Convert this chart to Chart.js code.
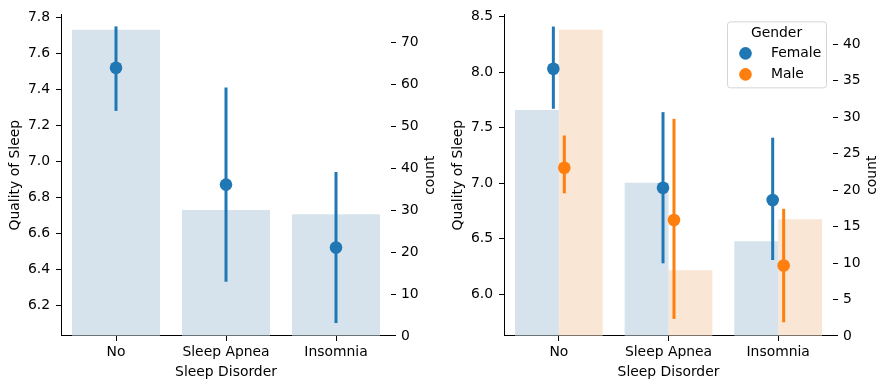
<!DOCTYPE html>
<html>
<head>
<meta charset="utf-8">
<script src="https://cdn.jsdelivr.net/npm/chart.js@4"></script>
<style>
  body { margin: 0; background: #fff; }
  #wrap { display: flex; width: 889px; height: 389px; }
  .panel { position: relative; height: 389px; }
  .panel canvas { position: absolute; left: 0; top: 0; display: block; }
</style>
</head>
<body>
<div id="wrap">
  <div class="panel" style="width:445px">
    <canvas id="allBars" width="445" height="389"></canvas>
    <canvas id="allPoints" width="445" height="389"></canvas>
  </div>
  <div class="panel" style="width:444px">
    <canvas id="genderBars" width="444" height="389"></canvas>
    <canvas id="genderPoints" width="444" height="389"></canvas>
  </div>
</div>
<script>
const categories = ["No", "Sleep Apnea", "Insomnia"];
const genders = ["Female", "Male"];

// left panel: everybody
const countAll = [73, 30, 29];
const qualityAll = [7.52, 6.87, 6.52];
const qualityAllLow = [7.28, 6.33, 6.10];
const qualityAllHigh = [7.75, 7.41, 6.94];

// right panel: split by gender
const countFemale = [31, 21, 13];
const countMale = [42, 9, 16];
const qualityFemale = [8.03, 6.96, 6.85];
const qualityFemaleLow = [7.67, 6.28, 6.31];
const qualityFemaleHigh = [8.41, 7.64, 7.41];
const qualityMale = [7.14, 6.67, 6.26];
const qualityMaleLow = [6.91, 5.78, 5.75];
const qualityMaleHigh = [7.43, 7.58, 6.77];

const qualityTicksAll = [6.2, 6.4, 6.6, 6.8, 7.0, 7.2, 7.4, 7.6, 7.8];
const countTicksAll = [0, 10, 20, 30, 40, 50, 60, 70];
const qualityTicksGender = [6.0, 6.5, 7.0, 7.5, 8.0, 8.5];
const countTicksGender = [0, 5, 10, 15, 20, 25, 30, 35, 40];

const blue = "#1f77b4";
const orange = "#ff7f0e";
const barBlue = "#d6e3ec";
const barOrange = "#f9e6d5";
const font = { family: "DejaVu Sans", size: 13.9 };
const fontStr = "13.9px 'DejaVu Sans'";

// vertical CI lines, drawn just before the dots
const errorBars = {
  id: "errorBars",
  beforeDatasetDraw(chart, args) {
    const ds = chart.data.datasets[args.index];
    if (!ds.ciLow) return;
    const y = chart.scales[ds.yAxisID];
    const ctx = chart.ctx;
    ctx.save();
    ctx.strokeStyle = ds.backgroundColor;
    ctx.lineWidth = 3;
    args.meta.data.forEach((pt, i) => {
      ctx.beginPath();
      ctx.moveTo(pt.x, y.getPixelForValue(ds.ciLow[i]));
      ctx.lineTo(pt.x, y.getPixelForValue(ds.ciHigh[i]));
      ctx.stroke();
    });
    ctx.restore();
  }
};

// matplotlib style right label (reads bottom to top)
const rightTitle = {
  id: "rightTitle",
  afterDraw(chart, args, opts) {
    if (!opts.text) return;
    const { ctx, chartArea } = chart;
    ctx.save();
    ctx.translate(chart.width - opts.offset, (chartArea.top + chartArea.bottom) / 2);
    ctx.rotate(-Math.PI / 2);
    ctx.font = fontStr;
    ctx.fillStyle = "#000";
    ctx.textAlign = "center";
    ctx.textBaseline = "middle";
    ctx.fillText(opts.text, 0, 0);
    ctx.restore();
  }
};

const genderLegend = {
  id: "genderLegend",
  afterDraw(chart, args, opts) {
    if (!opts.show) return;
    const { ctx, chartArea } = chart;
    const w = 99, h = 66;
    const x0 = chartArea.right - 7 - w, y0 = chartArea.top + 7;
    ctx.save();
    ctx.beginPath();
    ctx.roundRect(x0 + 0.5, y0 + 0.5, w, h, 3);
    ctx.fillStyle = "rgba(255,255,255,0.8)";
    ctx.fill();
    ctx.strokeStyle = "#d5d5d5";
    ctx.lineWidth = 1;
    ctx.stroke();
    ctx.font = fontStr;
    ctx.fillStyle = "#000";
    ctx.textAlign = "center";
    ctx.textBaseline = "middle";
    ctx.fillText("Gender", x0 + w / 2, y0 + 12);
    [blue, orange].forEach((c, i) => {
      const cy = y0 + 32 + i * 21;
      ctx.beginPath();
      ctx.arc(x0 + 18.5, cy, 6.3, 0, Math.PI * 2);
      ctx.fillStyle = c;
      ctx.fill();
      ctx.fillStyle = "#000";
      ctx.textAlign = "left";
      ctx.fillText(genders[i], x0 + 44, cy);
    });
    ctx.restore();
  }
};

function setTicks(values) {
  return scale => { scale.ticks = values.map(v => ({ value: v })); };
}

// ghost = same layout, nothing visible (overlay canvas for the points)
function makeOptions(o, ghost) {
  const ink = ghost ? "rgba(0,0,0,0)" : "#000";
  return {
    responsive: false,
    animation: false,
    layout: { padding: { top: 13, left: 0, right: 0, bottom: 0 } },
    plugins: {
      legend: { display: false },
      tooltip: { enabled: false },
      rightTitle: { text: ghost ? "count" : "", offset: o.countTitleOffset },
      genderLegend: { show: ghost && o.legend }
    },
    scales: {
      x: {
        type: "category",
        labels: categories,
        position: "bottom",
        offset: true,
        grid: { display: true, drawOnChartArea: false, offset: false, tickLength: 5, tickWidth: 1, color: ink },
        border: { display: true, color: ink, width: 1 },
        ticks: { color: ink, font: font, padding: 3 },
        title: { display: true, text: "Sleep Disorder", color: ink, font: font, padding: { top: 0, bottom: 8.5 } },
        afterFit: s => { s.height = 53; }
      },
      xp: { type: "linear", display: false, offset: false, min: -0.5, max: 2.5 },
      y: {
        type: "linear",
        position: "left",
        min: o.qMin,
        max: o.qMax,
        afterBuildTicks: setTicks(o.qTicks),
        grid: { display: true, drawOnChartArea: false, tickLength: 5, tickWidth: 1, color: ink },
        border: { display: true, color: ink, width: 1 },
        ticks: { color: ink, font: font, padding: 6, callback: v => v.toFixed(1) },
        title: { display: true, text: "Quality of Sleep", color: ink, font: font, padding: { top: o.qTitlePad, bottom: 0 } },
        afterFit: s => { s.width = o.leftWidth; }
      },
      count: {
        type: "linear",
        position: "right",
        min: 0,
        max: o.cMax,
        afterBuildTicks: setTicks(o.cTicks),
        grid: { display: true, drawOnChartArea: false, tickLength: 5, tickWidth: 1, color: ink },
        border: { display: false },
        ticks: { color: ink, font: font, padding: 5, callback: v => String(v) },
        afterFit: s => { s.width = o.rightWidth; }
      }
    }
  };
}

function pointSet(label, means, low, high, color, shift) {
  return {
    type: "scatter",
    label: label,
    data: means.map((m, i) => ({ x: i + shift, y: m })),
    ciLow: low,
    ciHigh: high,
    xAxisID: "xp",
    yAxisID: "y",
    backgroundColor: color,
    borderColor: color,
    pointRadius: 6.3,
    pointBorderWidth: 0
  };
}

function barSet(label, counts, color) {
  return {
    type: "bar",
    label: label,
    data: counts,
    xAxisID: "x",
    yAxisID: "count",
    backgroundColor: color,
    borderWidth: 0,
    categoryPercentage: 0.8,
    barPercentage: 1.0
  };
}

const allLayout = {
  qMin: 6.028, qMax: 7.817, qTicks: qualityTicksAll, qTitlePad: 7.5,
  cMax: 76.65, cTicks: countTicksAll,
  leftWidth: 61, rightWidth: 54, countTitleOffset: 15, legend: false
};
const genderLayout = {
  qMin: 5.626, qMax: 8.52, qTicks: qualityTicksGender, qTitlePad: 5.5,
  cMax: 44.1, cTicks: countTicksGender,
  leftWidth: 59, rightWidth: 56, countTitleOffset: 16.7, legend: true
};

new Chart(document.getElementById("allBars"), {
  type: "bar",
  data: { labels: categories, datasets: [barSet("count", countAll, barBlue)] },
  options: makeOptions(allLayout, false)
});
new Chart(document.getElementById("allPoints"), {
  type: "scatter",
  data: {
    labels: categories,
    datasets: [pointSet("Quality of Sleep", qualityAll, qualityAllLow, qualityAllHigh, blue, 0)]
  },
  options: makeOptions(allLayout, true),
  plugins: [errorBars, rightTitle, genderLegend]
});

new Chart(document.getElementById("genderBars"), {
  type: "bar",
  data: {
    labels: categories,
    datasets: [barSet("Female", countFemale, barBlue), barSet("Male", countMale, barOrange)]
  },
  options: makeOptions(genderLayout, false)
});
new Chart(document.getElementById("genderPoints"), {
  type: "scatter",
  data: {
    labels: categories,
    datasets: [
      pointSet("Female", qualityFemale, qualityFemaleLow, qualityFemaleHigh, blue, -0.05),
      pointSet("Male", qualityMale, qualityMaleLow, qualityMaleHigh, orange, 0.05)
    ]
  },
  options: makeOptions(genderLayout, true),
  plugins: [errorBars, rightTitle, genderLegend]
});
</script>
</body>
</html>
